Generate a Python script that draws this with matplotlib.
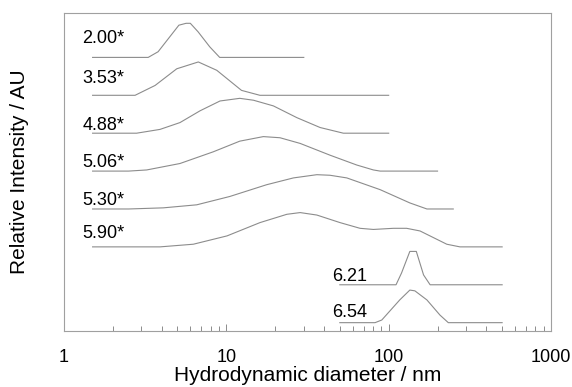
import matplotlib.pyplot as plt
from matplotlib.ticker import LogLocator, NullFormatter, FixedFormatter, FixedLocator

plt.rcParams['font.family'] = ['Liberation Sans', 'DejaVu Sans']

# size distributions (x in nm, height in units of curve spacing)
sizes_200 = [1.5, 3.3, 3.8, 5.1, 5.65, 6.0, 6.7, 7.9, 9.1, 30]
int_200 = [0, 0, 0.15, 0.85, 0.90, 0.90, 0.675, 0.28, 0, 0]

sizes_353 = [1.5, 2.74, 3.64, 4.95, 6.72, 8.73, 12.4, 16.1, 100]
int_353 = [0, 0, 0.26, 0.70, 0.88, 0.66, 0.13, 0, 0]

sizes_488 = [1.5, 2.8, 3.9, 5.18, 6.88, 9.14, 12.1, 14.7, 19.5, 27.2, 37.8, 52.6, 100]
int_488 = [0, 0, 0.10, 0.28, 0.59, 0.85, 0.92, 0.87, 0.72, 0.41, 0.15, 0, 0]

sizes_506 = [1.5, 2.5, 3.23, 5.18, 8.32, 12.1, 16.9, 21.4, 28.5, 43.5, 63.6, 80.5, 88.6, 200]
int_506 = [0, 0, 0.03, 0.2, 0.51, 0.79, 0.91, 0.88, 0.73, 0.42, 0.16, 0.03, 0, 0]

sizes_530 = [1.5, 2.5, 4.09, 6.57, 10.5, 17.7, 25.9, 36.1, 43.5, 55.2, 88.6, 135, 172, 250]
int_530 = [0, 0, 0.03, 0.11, 0.33, 0.64, 0.82, 0.905, 0.89, 0.82, 0.51, 0.16, 0, 0]

sizes_590 = [1.5, 3.9, 6.26, 10.1, 16.1, 23.6, 28.5, 36.1, 50.2, 66.6, 80.5, 107, 129, 156, 228, 275, 500]
int_590 = [0, 0, 0.07, 0.29, 0.64, 0.86, 0.905, 0.84, 0.64, 0.49, 0.46, 0.49, 0.49, 0.42, 0.07, 0, 0]

sizes_621 = [50, 111, 120, 135, 148, 164, 180, 500]
int_621 = [0, 0, 0.31, 0.88, 0.88, 0.26, 0, 0]

sizes_654 = [50, 82.4, 90.7, 117, 135, 145, 172, 207, 233, 500]
int_654 = [0, 0, 0.07, 0.6, 0.86, 0.84, 0.6, 0.2, 0, 0]

labels = ['2.00*', '3.53*', '4.88*', '5.06*', '5.30*', '5.90*', '6.21', '6.54']
all_sizes = [sizes_200, sizes_353, sizes_488, sizes_506, sizes_530, sizes_590, sizes_621, sizes_654]
all_int = [int_200, int_353, int_488, int_506, int_530, int_590, int_621, int_654]

# label placement (x in nm, y above the curve baseline)
label_x = [1.3, 1.3, 1.3, 1.3, 1.3, 1.3, 45, 45]
label_dy = [0.38, 0.33, 0.08, 0.11, 0.11, 0.23, 0.09, 0.16]

fig = plt.figure(figsize=(5.72, 3.87), dpi=100)
ax = fig.add_axes([0.1119, 0.1447, 0.8514, 0.8225])

line_col = '#8c8c8c'
n = len(labels)
for i in range(n):
    off = n - 1 - i
    ax.plot(all_sizes[i], [v + off for v in all_int[i]], color=line_col, lw=0.8)
    ax.text(label_x[i], off + label_dy[i], labels[i], fontsize=13, va='baseline', ha='left')

ax.set_xscale('log')
ax.set_xlim(1, 1000)
ax.set_ylim(-0.22, 8.18)

ax.xaxis.set_major_locator(FixedLocator([1, 10, 100, 1000]))
ax.xaxis.set_major_formatter(FixedFormatter(['1', '10', '100', '1000']))
ax.xaxis.set_minor_locator(LogLocator(base=10, subs=range(2, 10)))
ax.xaxis.set_minor_formatter(NullFormatter())
ax.tick_params(axis='x', which='major', direction='in', length=5, width=0.7,
               color='#8c8c8c', pad=13, labelsize=13)
ax.tick_params(axis='x', which='minor', direction='in', length=3.5, width=0.7, color='#8c8c8c')
ax.set_yticks([])

for s in ax.spines.values():
    s.set_color('#a0a0a0')
    s.set_linewidth(0.8)

ax.set_xlabel('Hydrodynamic diameter / nm', fontsize=15, labelpad=0)
ax.set_ylabel('Relative Intensity / AU', fontsize=15, labelpad=25)

fig.savefig('out.png', dpi=100)
